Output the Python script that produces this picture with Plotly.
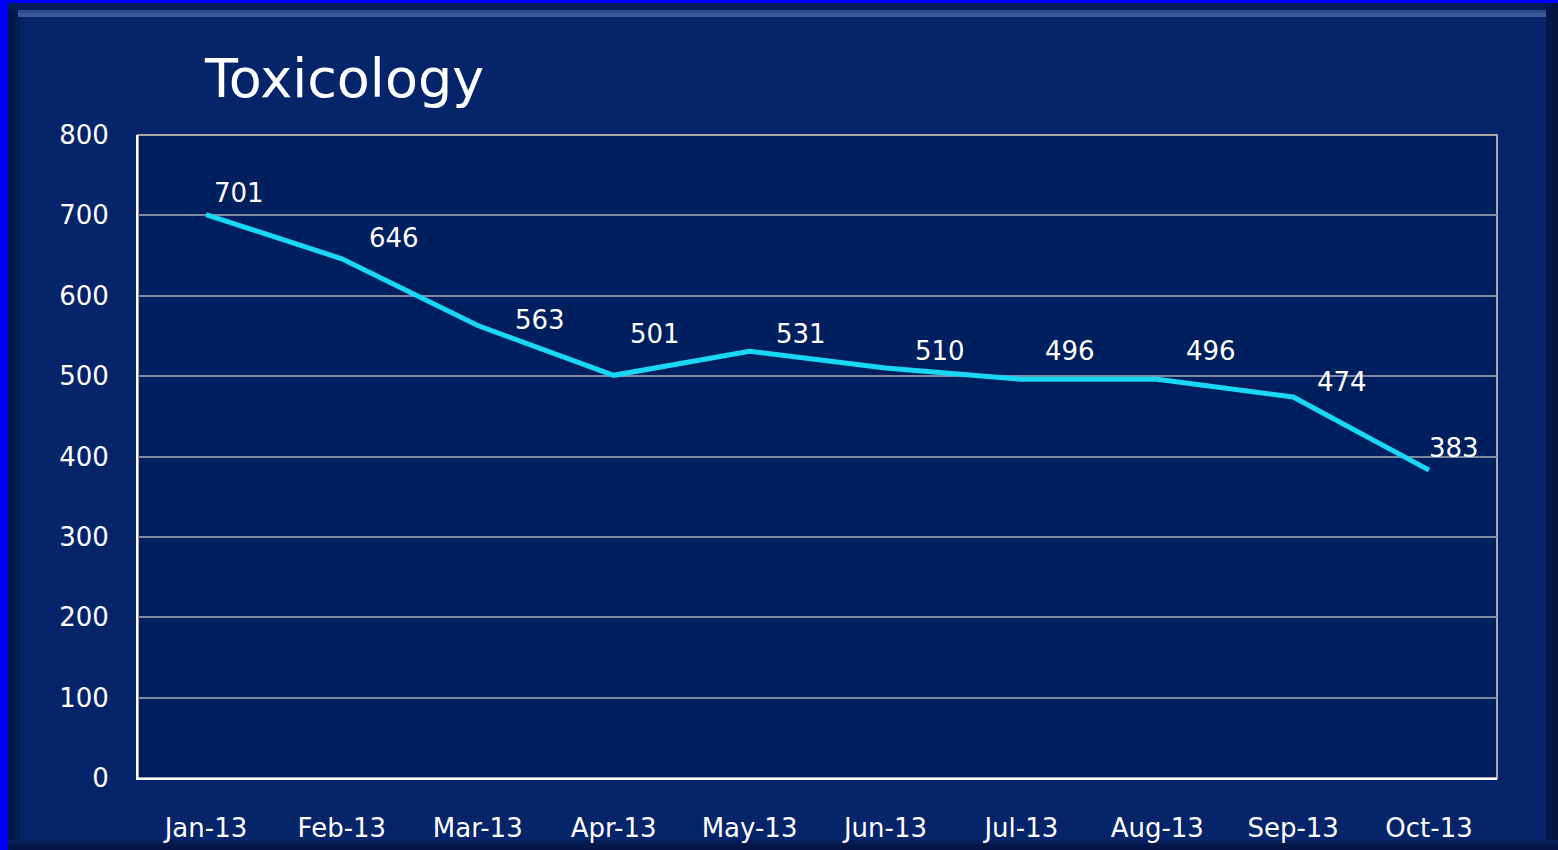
import plotly.graph_objects as go

months = ["Jan-13", "Feb-13", "Mar-13", "Apr-13", "May-13", "Jun-13",
          "Jul-13", "Aug-13", "Sep-13", "Oct-13"]
values = [701, 646, 563, 501, 531, 510, 496, 496, 474, 383]
y_ticks = [0, 100, 200, 300, 400, 500, 600, 700, 800]
title_text = "Toxicology"

# label placement offsets (style)
label_dx = [33, 52, 62, 41, 51, 55, 49, 54, 49, 25]
label_dy = [22, 21, 5, 41, 17, 17, 28, 28, 15, 22]

W, H = 1558, 850
L, R, T, B = 138, 61, 135, 72
PW, PH = W - L - R, H - T - B


def px(x):
    return (x - L) / PW


def py(y):
    return (H - B - y) / PH


FONT = "DejaVu Sans"
PANEL = "#06246A"
PLOT = "#001F5E"

fig = go.Figure()
fig.add_trace(go.Scatter(
    x=months, y=values, mode="lines",
    line=dict(color="#18D8F6", width=5),
    hoverinfo="x+y", showlegend=False,
))

annotations = []
for m, v, dx, dy in zip(months, values, label_dx, label_dy):
    annotations.append(dict(
        x=m, y=v, xref="x", yref="y", text=str(v), showarrow=False,
        xshift=dx, yshift=dy, xanchor="center", yanchor="middle",
        font=dict(family=FONT, size=26, color="white"),
    ))
annotations.append(dict(
    x=px(202), y=py(78), xref="paper", yref="paper", text=title_text,
    showarrow=False, xanchor="left", yanchor="middle",
    font=dict(family=FONT, size=54, color="white"),
))


def rect(x0, y0, x1, y1, color, layer="below"):
    return dict(type="rect", xref="paper", yref="paper",
                x0=px(x0), x1=px(x1), y0=py(y1), y1=py(y0),
                fillcolor=color, line=dict(width=0), layer=layer)


shapes = [
    rect(0, 0, W, H, PANEL),
    # bevel shading
    rect(8, 3, 20, H, "#041C56"),
    rect(8, 3, 14, H, "#031848"),
    rect(8, 3, W, 10, "#031C58"),
    rect(18, 10, W - 12, 13, "#2A4A8C"),
    rect(18, 13, W - 12, 17, "#3A5A9C"),
    rect(W - 12, 3, W, H, "#03174C"),
    rect(W - 6, 3, W, H, "#021240"),
    rect(8, H - 10, W, H, "#041C58"),
    rect(8, H - 6, W, H, "#031646"),
    # blue outer border
    rect(0, 0, 8, H, "#0000FF"),
    rect(0, 0, W, 3, "#0000FF"),
    # plot area background + frame
    dict(type="rect", xref="paper", yref="paper", x0=0, x1=1, y0=0, y1=1,
         fillcolor=PLOT, line=dict(color="#A8A8A8", width=2), layer="below"),
]

fig.update_layout(
    width=W, height=H,
    margin=dict(l=L, r=R, t=T, b=B, pad=0, autoexpand=False),
    paper_bgcolor=PANEL,
    plot_bgcolor="rgba(0,0,0,0)",
    shapes=shapes,
    annotations=annotations,
    showlegend=False,
    xaxis=dict(
        type="category", range=[-0.5, len(months) - 0.5],
        showgrid=False, zeroline=False, automargin=False,
        showline=True, linecolor="white", linewidth=2,
        ticks="", ticklabelstandoff=26,
        tickfont=dict(family=FONT, size=26, color="white"),
        fixedrange=True,
    ),
    yaxis=dict(
        range=[0, 800], tickvals=y_ticks, automargin=False,
        showgrid=True, gridcolor="#7E889E", gridwidth=1.5,
        zeroline=False,
        showline=True, linecolor="white", linewidth=2,
        ticks="", ticklabelstandoff=22,
        tickfont=dict(family=FONT, size=26, color="white"),
        fixedrange=True,
    ),
)

fig.write_html(
    "out.html",
    config={"displayModeBar": False},
    post_script="document.body.style.margin='0';document.body.style.overflow='hidden';",
)
